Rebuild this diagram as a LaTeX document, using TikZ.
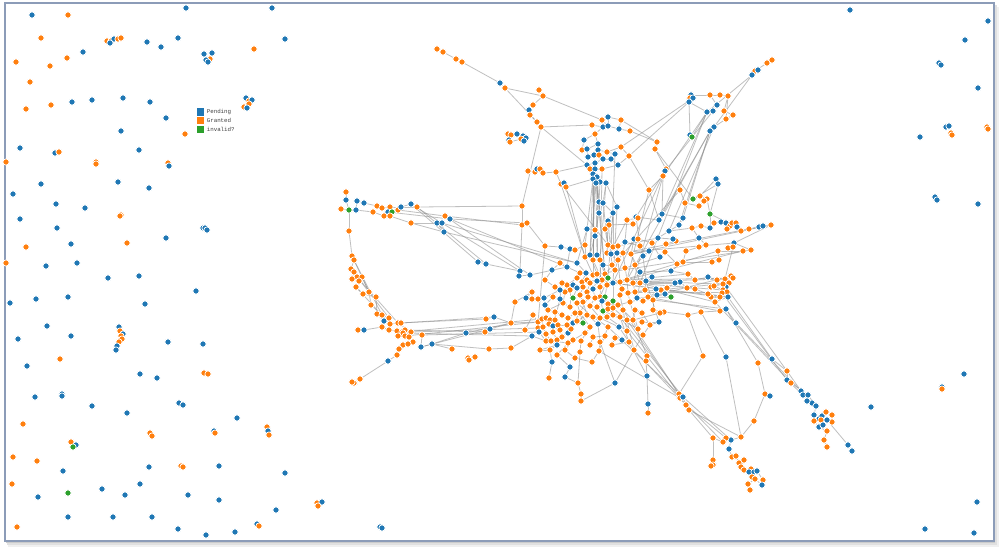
\documentclass[tikz,border=0pt]{standalone}
\usepackage{fontspec}
\setmonofont{Liberation Mono}
\usetikzlibrary{positioning}
\pgfdeclarelayer{bg}
\pgfsetlayers{bg,main}
\definecolor{b}{HTML}{1F77B4}
\definecolor{o}{HTML}{FF7F0E}
\definecolor{g}{HTML}{2CA02C}
\definecolor{frm}{HTML}{8C9CB8}
\begin{document}
\begin{tikzpicture}[x=0.2mm,y=-0.2mm,
  dot/.style={circle,fill=#1,draw=white,line width=0.4pt,inner sep=0pt,minimum size=1.25mm},
  link/.style={draw=black!45,line width=0.45pt,opacity=0.55},
  legsq/.style={fill=#1,inner sep=0pt,minimum size=1.55mm},
  legtxt/.style={inner sep=0pt,text=black!75,font=\ttfamily\fontsize{3.3}{4}\selectfont}]
\useasboundingbox (0,0) rectangle (1000,550);
\begin{pgfonlayer}{bg}
\fill[black!6] (8,7) rectangle (999,547);
\fill[black!12] (7,5) rectangle (997,545);
\fill[black!20] (6,4) rectangle (995,543);
\filldraw[fill=white,draw=frm,line width=0.6pt] (5,3) rectangle (994,541);
\end{pgfonlayer}
% free nodes
\foreach \x/\y/\col [count=\i] in {32/15/b,68/15/o,186/8/b,272/8/b,41/38/o,107/41/o,111/41/o,114/39/b,118/39/o,121/38/o,110/43/b,178/38/b,285/39/b,147/42/b,161/47/b,204/54/b,212/53/b,210/59/o,206/60/b,208/62/b,254/49/o,16/62/o,50/66/o,67/58/o,83/52/b,30/82/o,26/109/o,51/105/o,72/102/b,92/100/b,123/98/b,150/102/b,166/118/b,121/131/b,246/98/b,249/101/o,252/100/b,249/104/o,244/107/o,247/108/b,185/134/o,20/148/b,55/153/b,59/152/o,96/162/o,96/164/o,168/163/o,169/166/b,6/162/o,139/150/b,41/184/b,13/194/b,118/182/b,149/188/b,56/204/b,85/208/b,20/219/b,121/215/o,120/216/o,57/228/b,71/244/b,127/243/o,166/238/b,203/228/b,205/228/b,207/230/b,26/247/o,6/263/o,46/266/b,77/263/b,108/278/b,139/276/b,196/291/b,10/303/b,36/299/b,68/297/b,145/304/b,47/326/b,18/339/b,71/336/b,119/327/b,120/331/o,123/334/b,121/336/o,122/339/o,119/342/o,117/346/b,116/350/b,168/342/b,203/344/b,60/359/o,27/366/b,140/374/b,157/378/b,204/373/o,208/374/o,35/397/b,62/394/b,62/396/b,92/406/b,127/413/b,179/403/b,183/405/b,237/418/b,23/424/o,71/442/o,76/445/b,73/447/g,150/433/o,152/436/o,214/431/b,215/433/o,267/427/o,268/431/b,269/435/o,13/457/o,37/461/o,63/471/b,149/467/b,181/466/o,183/467/o,219/466/b,285/473/b,12/484/o,38/497/b,68/493/g,102/489/b,125/495/b,140/484/b,188/495/b,219/500/b,276/510/b,68/517/b,113/517/b,152/517/b,178/529/b,206/535/b,235/532/b,17/527/o,257/524/b,259/526/o,317/503/o,322/502/b,318/506/o,380/527/b,382/528/b,850/10/b,988/21/b,965/40/b,939/63/b,941/65/b,978/88/b,946/127/b,949/126/b,951/133/o,952/135/o,920/137/b,987/127/o,988/129/o,935/197/b,937/200/b,978/204/b,964/374/b,942/387/b,942/389/o,871/407/b,977/502/b,925/529/b,974/533/b}
  \node[dot=\col] (f\i) at (\x,\y) {};
% graph nodes
\foreach \n/\x/\y/\col in {t1/437/49/o,t2/443/52/o,t3/456/59/o,t4/462/62/o,t5/500/83/b,t6/505/88/o,t7/539/90/o,t8/543/96/o,t9/533/105/o,t10/529/110/b,t11/530/115/o,t12/537/122/o,t13/541/127/o,
  k1/508/134/o,k2/511/135/o,k3/517/134/b,k4/523/136/b,k5/526/138/b,k6/509/140/b,k7/510/142/o,k8/521/139/o,k9/524/141/b,
  u1/592/125/o,u2/602/120/o,u3/603/127/b,u4/608/126/b,u5/608/117/b,u6/595/134/o,u7/584/140/b,u8/582/150/o,u9/587/149/b,u10/598/144/b,u11/598/150/b,u12/607/152/o,u13/615/154/b,u14/611/159/b,u15/588/157/b,u16/594/155/b,u17/599/155/o,u18/603/159/b,u19/595/163/b,u20/587/165/b,u21/590/169/o,u22/595/169/b,u23/602/169/o,u24/618/165/b,u25/593/174/b,u26/597/177/b,u27/593/179/b,u28/600/182/b,u29/606/183/b,u30/596/183/b,u31/621/120/o,u32/619/129/b,u33/630/131/o,u34/621/147/o,u35/629/156/o,u37/599/202/b,u38/603/203/b,u39/599/213/b,u40/613/213/b,u41/617/207/b,u42/608/221/b,u43/609/225/o,u44/605/229/o,u45/595/230/o,u46/587/229/b,u47/595/236/b,
  w1/528/171/o,w2/535/172/o,w3/537/169/b,w4/540/169/o,w5/543/173/o,w6/556/172/o,w7/561/184/o,w8/564/183/b,w9/566/187/o,w10/522/206/o,w11/522/225/o,w12/527/223/o,w14/545/246/o,w15/561/247/b,w16/570/249/b,
  s1/767/63/o,s2/772/60/o,s3/755/71/o,s4/752/75/b,s5/758/70/b,s6/691/95/b,s7/690/98/o,s8/693/98/b,s9/689/102/b,s10/710/95/o,s11/720/95/o,s12/728/96/o,s13/717/105/b,s14/713/111/b,s15/707/112/b,s16/724/111/o,s17/733/115/o,s18/726/119/o,s19/714/127/b,s20/710/131/b,s21/690/135/b,s22/692/137/g,s23/657/142/o,s24/655/149/o,s25/666/169/o,s26/665/171/b,s27/663/176/o,s28/649/190/o,s29/680/190/o,
  m1/716/179/b,m2/718/184/b,m3/693/199/g,m4/700/196/o,m5/707/199/o,m6/704/201/o,m7/699/206/o,m8/685/203/o,m9/710/214/g,m10/662/214/b,m11/683/218/b,m12/679/225/b,m13/659/220/b,m14/636/217/b,m15/638/218/o,m16/627/220/o,m17/633/224/o,m22/669/231/b,m23/692/228/o,m24/701/226/o,m25/710/228/b,m26/714/223/o,m27/721/222/b,m28/726/223/b,m29/730/226/o,m30/727/229/o,m31/732/223/o,m32/736/223/o,m33/737/227/b,m34/741/231/o,m35/749/229/o,m36/759/227/b,m37/763/226/b,m38/771/225/o,m39/658/238/b,m40/676/241/o,m41/666/244/o,m42/673/239/b,m43/699/238/b,m44/706/245/o,m45/699/247/o,m46/686/251/o,m47/718/251/o,m48/743/251/o,m49/751/250/o,m50/719/260/o,m51/712/262/o,m52/683/262/o,m53/649/251/b,m54/643/256/b,m55/671/271/b,m56/688/274/o,m57/695/280/o,m58/708/277/b,m59/717/280/o,m60/725/279/o,m61/731/276/o,m62/733/278/o,m63/729/283/o,m64/726/287/b,m65/723/284/o,m66/711/287/o,m67/714/286/o,m68/723/290/o,m69/727/292/o,m70/722/293/o,m71/720/297/o,m72/711/297/o,m73/715/302/o,m74/728/297/b,m75/708/294/o,m76/695/289/o,m77/687/288/o,m78/680/282/b,m79/675/283/b,m80/667/288/o,m81/661/290/o,m82/656/289/b,m83/671/297/g,m84/652/277/b,m85/646/281/b,m86/665/294/b,m87/657/295/b,m88/653/300/o,m89/653/310/o,m90/664/312/o,m91/688/315/o,m92/701/312/o,m93/720/311/o,m94/726/309/b,m95/736/323/b,m96/659/322/b,m97/642/322/o,m98/634/239/b,m99/638/239/o,m100/652/243/o,m101/660/257/b,m102/665/252/o,m103/677/264/o,m104/734/243/b,m105/728/248/o,m106/733/247/o,
  c1/486/264/b,c2/520/271/b,c3/519/276/b,c4/530/275/b,c5/532/292/o,c6/526/298/b,c7/532/299/o,c8/538/299/o,c9/544/298/b,c10/515/302/o,c11/486/319/o,c12/494/317/b,c13/485/332/o,c14/490/329/b,c15/511/323/o,c16/489/349/o,c17/511/348/o,c18/532/336/b,c19/538/322/o,c20/542/319/o,c21/546/318/o,c22/550/320/o,c23/555/320/o,c24/538/328/o,c25/543/327/o,c26/549/324/o,c27/553/326/b,c28/558/325/o,c29/539/332/b,c30/546/334/o,c31/553/332/o,c32/560/330/o,c33/546/341/o,c34/551/341/o,c35/557/340/o,c36/562/337/o,c37/568/333/b,c38/571/329/o,c39/567/325/o,c40/573/323/b,c41/577/321/o,c42/583/323/g,c43/557/345/b,c44/568/343/o,c45/567/267/b,c46/577/263/b,c47/585/257/o,c48/590/255/b,c49/597/255/b,c50/593/260/o,c51/600/260/o,c52/608/245/o,c53/613/247/o,c54/618/246/o,c55/607/253/o,c56/611/254/b,c57/617/253/b,c58/623/253/o,c59/618/260/o,c60/631/254/o,c61/580/273/o,c62/586/273/b,c63/577/278/o,c64/567/285/o,c65/562/283/o,c66/573/285/b,c67/582/282/o,c68/587/280/o,c69/593/275/o,c70/597/274/o,c71/605/274/o,c72/608/278/g,c73/602/280/o,c74/597/281/b,c75/590/283/o,c76/583/287/o,c77/577/288/b,c78/570/290/o,c79/565/292/o,c80/560/290/b,c81/573/298/g,c82/580/295/o,c83/587/292/o,c84/593/289/b,c85/600/287/o,c86/607/285/o,c87/613/283/b,c88/620/282/o,c89/627/280/o,c90/633/283/o,c91/640/283/o,c93/600/297/o,c94/605/297/g,c95/613/301/g,c96/608/304/o,c97/602/301/b,c98/595/298/o,c99/588/297/o,c100/583/302/o,c101/577/303/o,c102/570/307/o,c103/563/303/o,c104/560/299/b,c105/590/306/o,c106/597/307/o,c107/603/311/g,c108/608/309/o,c109/613/308/o,c110/618/305/o,c111/623/310/o,c112/630/302/o,c113/637/298/b,c114/643/301/o,c115/648/297/o,c116/628/293/o,c117/635/292/o,c118/620/295/o,c119/580/313/o,c120/587/315/o,c121/593/317/o,c122/600/318/o,c123/607/317/o,c124/613/315/o,c125/620/317/o,c126/627/320/o,c127/633/320/o,c129/590/327/o,c130/598/324/b,c131/608/327/o,c132/619/327/b,c133/627/331/o,c134/638/329/o,c135/629/342/o,c136/634/350/o,c137/647/356/o,c138/581/341/o,c139/550/350/o,c140/557/355/o,c141/552/362/b,c142/570/367/b,c143/565/377/b,c144/549/378/o,c145/600/342/o,c146/580/352/o,c147/599/351/o,c148/578/383/o,c149/581/394/o,c150/581/401/o,c151/660/313/o,
  c152/548/310/o,c153/555/312/o,c154/562/315/o,c155/545/305/b,c156/553/297/o,c157/575/313/o,c158/568/318/o,c159/573/340/o,c160/585/333/o,c161/593/337/o,c162/605/336/o,c163/615/338/o,c164/622/340/b,c165/612/345/o,c166/590/345/o,c167/565/350/o,c168/575/358/o,c169/592/362/o,c170/560/263/o,c171/552/270/b,c172/545/280/o,c173/555/287/o,c174/615/270/o,c175/625/268/o,c176/635/265/o,c177/640/272/b,c178/645/290/o,c179/635/310/o,c180/642/313/o,c181/650/325/o,c182/643/335/o,c183/622/289/o,c184/585/245/o,c185/575/250/o,c186/625/242/b,c187/640/246/o,c188/540/350/o,c189/533/315/o,c190/525/330/o,c191/603/265/b,c192/612/265/o,
  b2/703/356/o,b3/726/357/b,b4/758/363/o,b5/772/359/b,b6/787/371/o,b7/787/380/b,b8/791/383/o,b9/801/391/b,b10/803/395/b,b11/808/395/b,b12/812/403/b,b13/816/406/b,b14/807/401/b,b15/814/415/b,b16/819/419/b,b17/822/416/b,b18/826/412/o,b19/832/415/o,b20/821/420/o,b21/832/422/o,b22/814/421/o,b23/827/420/b,b24/819/427/b,b25/823/425/b,b26/827/431/o,b27/824/440/o,b28/827/447/o,b29/848/445/b,b30/852/451/b,b31/765/394/o,b32/770/396/b,b33/754/421/o,b34/741/437/o,b35/731/440/b,b36/726/438/o,b37/723/442/o,b38/713/438/o,b39/729/449/b,b40/713/460/o,b41/713/465/o,b42/711/466/o,b43/732/457/o,b44/736/456/o,b45/739/463/o,b46/744/460/o,b47/741/467/o,b48/744/470/o,b49/751/469/o,b50/749/472/b,b51/754/472/b,b52/757/471/b,b53/752/477/o,b54/755/479/o,b55/748/484/o,b56/763/480/o,b57/762/485/b,b58/750/490/o,b59/679/394/o,b60/680/398/o,b61/683/397/b,b62/686/405/o,b63/689/410/o,b64/615/383/b,b65/647/376/b,b66/648/404/b,b67/648/413/o,b69/646/361/o,
  a1/346/192/o,a2/346/200/b,a3/341/209/o,a4/349/210/g,a5/357/201/b,a6/364/203/b,a7/356/210/b,a8/377/206/o,a9/373/212/o,a10/382/208/o,a11/390/207/o,a12/388/212/b,a13/392/212/g,a14/398/210/o,a15/401/207/b,a16/411/204/b,a17/417/207/o,a18/384/216/o,a19/390/216/o,a20/411/223/o,a21/445/216/o,a22/450/219/b,a23/437/223/b,a24/442/223/b,a25/444/232/b,a26/478/262/b,a27/349/231/o,a28/352/256/o,a29/354/260/o,a30/351/269/o,a31/354/272/o,a32/357/277/o,a33/362/277/o,a34/352/279/o,a35/359/281/o,a36/356/287/o,a37/363/294/o,a38/369/292/o,a39/376/297/o,a40/371/305/o,a41/377/314/o,a42/382/315/o,a43/384/321/b,a44/389/318/o,a45/382/327/o,a46/390/324/o,a47/398/323/o,a48/401/323/o,a49/389/330/o,a50/397/331/o,a51/402/332/o,a52/405/330/o,a53/403/333/o,a54/398/336/o,a55/405/336/o,a56/411/332/o,a57/409/337/o,a58/422/335/o,a59/413/342/o,a60/403/345/o,a61/408/344/o,a62/399/349/o,a63/421/347/b,a64/432/344/b,a65/452/349/o,a66/466/333/b,a67/358/330/o,a68/364/330/b,a69/397/355/o,a70/388/361/b,a71/360/379/o,a72/354/383/o,a73/352/382/o,a74/468/358/o,a75/475/357/o,a76/469/360/o}
  \node[dot=\col] (\n) at (\x,\y) {};
\begin{pgfonlayer}{bg}
\foreach \p/\q in {t1/t2,t2/t3,t3/t4,t4/t5,t5/t6,t6/t8,t7/t8,t6/t12,t9/t10,t9/t8,t10/t11,t11/t12,t12/t13,t8/u2,t13/u1,t13/u20,t13/w10,w10/w11,w11/w12,
  k1/k2,k2/k3,k3/k4,k4/k5,k6/k7,k7/k8,k8/k9,k1/k6,k4/k9,
  u1/u3,u2/u4,u3/u6,u4/u5,u5/u31,u6/u7,u7/u8,u8/u9,u9/u10,u10/u11,u11/u12,u12/u13,u13/u14,u14/u18,u15/u16,u16/u17,u17/u18,u18/u19,u19/u20,u20/u21,u21/u22,u22/u23,u23/u24,u24/u14,u25/u26,u26/u28,u27/u30,u28/u29,u15/u9,u6/u10,u31/u32,u32/u33,u33/s23,u34/u35,u35/u24,u34/u12,u32/u4,u28/u37,u29/u38,u37/u39,u38/u40,u40/u42,u42/u43,u43/u44,u44/c52,u30/c48,u26/c49,u39/u47,u47/c48,u45/u46,u46/c46,u45/u47,u22/c71,u23/c85,u25/c69,u19/c50,u13/c56,u41/c87,u40/c72,u42/c56,u41/u29,u27/u46,u30/u37,
  w1/w2,w2/w3,w3/w4,w4/w5,w5/w6,w6/w7,w7/w8,w8/w9,w9/u27,w6/u20,w7/c52,w9/c47,w12/w14,w14/w15,w15/w16,w16/c45,w14/c19,
  s1/s2,s1/s3,s3/s5,s4/s5,s4/s15,s6/s7,s7/s8,s8/s9,s6/s10,s10/s11,s11/s12,s12/s16,s12/s18,s10/s13,s13/s14,s14/s15,s15/s9,s16/s17,s17/s18,s18/s19,s19/s20,s15/s22,s22/s21,s21/s9,s15/s27,s14/s26,s27/s28,s26/m14,s20/m11,s9/u35,s8/u34,s23/s24,s23/u31,s24/m3,s24/s25,s25/s27,s28/c89,s28/u35,s29/m8,s29/c71,s4/s19,s20/m12,
  m1/m2,m2/m3,m2/m9,m1/m4,m3/m4,m4/m5,m5/m6,m6/m7,m7/m8,m5/m9,m9/m33,m9/m25,m10/m11,m11/m12,m12/m22,m13/m14,m14/m15,m15/m16,m16/m17,m17/u43,m13/m10,m22/m23,m23/m24,m24/m25,m25/m26,m26/m27,m27/m28,m28/m29,m29/m30,m29/m31,m31/m32,m32/m33,m33/m34,m34/m35,m35/m36,m36/m37,m37/m38,m22/m39,m39/m42,m42/m40,m40/m41,m43/m44,m44/m45,m45/m46,m46/m52,m47/m48,m48/m49,m47/m50,m50/m51,m51/m52,m52/m55,m53/m54,m54/m85,m55/m56,m56/m57,m57/m58,m58/m59,m59/m60,m60/m61,m61/m62,m62/m63,m63/m64,m64/m65,m65/m66,m66/m67,m67/m68,m68/m69,m69/m70,m70/m71,m71/m72,m72/m73,m73/m74,m74/m75,m75/m76,m76/m77,m77/m78,m78/m79,m79/m80,m80/m81,m81/m82,m82/m83,m83/m86,m86/m87,m87/m88,m88/m89,m89/m90,m90/m91,m91/m92,m92/m93,m93/m94,m94/m95,m84/m85,m85/m96,m96/m97,m98/m99,m99/m100,m100/m101,m101/m102,m102/m103,m104/m105,m105/m106,m106/m60,m43/m23,m10/s27,m13/s28,m38/m104,m49/m104,
  c88/m60,c89/m62,c90/m68,c91/m73,c113/m94,c115/m93,c86/m47,c87/m48,c70/m49,c58/m36,c60/m38,c57/m104,c73/m65,c74/m71,c68/m74,c110/m61,c116/m63,c117/m69,c60/m98,c54/m39,c53/m16,c71/u26,c87/s26,c90/s27,c89/s20,c91/s15,
  c52/u38,c53/u40,c49/u30,c51/u29,c55/u42,c50/u25,c48/u27,c47/w7,c184/u46,c187/m14,c186/m16,c60/m53,c176/m101,c177/m55,c91/m79,c90/m78,c89/m56,c113/m83,c114/m86,c115/m81,s20/m13,s15/m10,s19/m22,
  c19/c24,c20/c25,c21/c26,c22/c27,c23/c28,c24/c29,c25/c30,c26/c31,c27/c32,c28/c39,c29/c33,c30/c34,c31/c35,c32/c36,c33/c43,c34/c44,c35/c37,c36/c38,c37/c40,c38/c41,c39/c42,c40/c119,c41/c120,c42/c101,c43/c139,c44/c140,c45/c61,c46/c62,c47/c69,c48/c70,c49/c71,c50/c73,c51/c85,c52/c55,c53/c56,c54/c57,c55/c59,c56/c58,c57/c60,c58/c89,c59/c88,c60/c91,c61/c63,c62/c67,c63/c64,c64/c65,c65/c80,c66/c78,c67/c76,c68/c75,c69/c74,c70/c73,c71/c86,c72/c87,c73/c85,c74/c84,c75/c83,c76/c82,c77/c81,c78/c102,c79/c103,c80/c104,c81/c101,c82/c100,c83/c99,c84/c98,c85/c97,c86/c94,c87/c95,c88/c118,c89/c116,c90/c117,c91/c113,c93/c107,c94/c108,c95/c109,c96/c110,c97/c106,c98/c105,c99/c119,c100/c120,c101/c121,c102/c103,c104/c27,c105/c122,c106/c123,c107/c124,c108/c125,c109/c126,c110/c127,c111/c133,c112/c134,c113/c114,c114/c115,c115/m88,c116/c112,c117/c113,c118/c111,c119/c129,c120/c130,c121/c131,c122/c132,c123/c133,c124/c134,c125/c135,c126/c136,c127/c137,c129/c138,c130/c145,c131/c147,c132/c135,c138/c146,c145/c147,c139/c141,c140/c142,c141/c144,c142/c143,c143/c148,c148/c149,c149/c150,c146/c148,c151/m90,c151/c127,c66/c77,c79/c64,c93/c72,c96/c95,
  c152/c155,c153/c152,c154/c153,c156/c155,c157/c158,c159/c160,c161/c162,c163/c164,c165/c163,c166/c161,c167/c159,c168/c167,c169/c168,c170/c171,c171/c172,c172/c173,c174/c175,c175/c176,c176/c177,c178/c117,c179/c180,c180/c181,c181/c182,c183/c88,c184/c185,c186/c187,c188/c139,c189/c190,c191/c192,c152/c103,c157/c119,c162/c145,c165/c135,c170/c45,c174/c59,c177/c60,c178/m85,c179/c127,c181/m96,c184/c47,c186/c58,c188/c43,c189/c19,c191/c71,c192/c56,c169/c147,c182/c136,c173/c80,c176/m53,
  c1/c2,c2/c3,c3/c4,c4/c45,c5/c6,c6/c7,c7/c8,c8/c9,c9/c80,c10/c5,c10/c15,c11/c12,c12/c15,c13/c14,c14/c15,c15/c19,c16/c17,c17/c18,c18/c33,c2/w11,c1/a26,
  a47/c11,a48/c12,a52/c13,a55/c19,a56/c24,a58/c29,a63/c14,a64/c16,a66/c15,a53/c18,a51/c20,a17/c1,a21/c4,a22/c45,a24/c46,a25/c46,a20/a25,a12/a22,a14/a21,a16/a26,a23/a25,a21/w11,a22/w12,a17/w10,a16/c2,
  a1/a2,a2/a4,a3/a4,a4/a7,a4/a27,a5/a6,a6/a8,a7/a9,a8/a10,a9/a18,a10/a11,a11/a12,a12/a13,a13/a14,a14/a15,a15/a16,a16/a17,a18/a19,a19/a20,a20/a23,a21/a22,a23/a24,a24/a25,a5/a7,a27/a28,a28/a29,a29/a30,a30/a31,a31/a32,a32/a33,a31/a34,a34/a35,a35/a36,a36/a37,a33/a38,a37/a39,a38/a40,a39/a41,a40/a42,a41/a43,a42/a44,a43/a45,a44/a46,a45/a49,a46/a47,a47/a48,a48/a52,a49/a50,a50/a51,a51/a53,a52/a56,a53/a54,a54/a55,a55/a57,a57/a59,a59/a61,a61/a60,a60/a62,a62/a69,a69/a70,a70/a71,a71/a72,a72/a73,a58/a63,a63/a64,a64/a65,a67/a68,a68/a45,a28/a38,a29/a42,a30/a44,a32/a47,a36/a46,a66/a64,a74/a75,a75/a76,a13/a19,a11/a17,
  c111/b59,c126/b59,c133/b60,c136/b62,c125/b61,b59/b60,b60/b61,b61/b62,b62/b63,b63/b38,b62/b36,b61/b35,b60/b37,b63/b34,b2/b59,b2/m91,b3/b34,b3/m92,b4/b31,b31/b32,b31/b33,b33/b34,b4/m94,m74/b5,m64/b6,m70/b7,m73/b8,m95/b9,b9/b14,b14/b12,b12/b13,b13/b15,b15/b16,b16/b17,b17/b18,b18/b19,b10/b11,b11/b13,b16/b20,b20/b21,b20/b22,b22/b24,b24/b25,b25/b23,b24/b26,b26/b27,b27/b28,b23/b29,b29/b30,b6/b9,b7/b10,b8/b11,b5/b6,b6/b7,b7/b8,b34/b35,b35/b36,b36/b37,b37/b38,b38/b40,b40/b41,b41/b42,b35/b39,b39/b43,b43/b44,b44/b45,b45/b46,b46/b47,b47/b48,b48/b49,b49/b50,b50/b51,b51/b52,b52/b56,b53/b54,b50/b53,b54/b55,b55/b58,b56/b57,b57/b54,b64/c136,b65/c135,b65/b66,b66/b67,b69/c137,b69/b65,c131/b59,c147/b60,c145/b64,c150/b64}
  \draw[link] (\p) -- (\q);
\end{pgfonlayer}
% legend
\node[legsq=b] (lgp) at (200.5,112.2) {};
\node[legsq=o] (lgg) at (200.5,120.6) {};
\node[legsq=g] (lgi) at (200.5,129.5) {};
\node[legtxt,right=0.35mm of lgp] (ltp) {Pending};
\node[legtxt,right=0.35mm of lgg] (ltg) {Granted};
\node[legtxt,right=0.35mm of lgi] (lti) {invalid?};
\end{tikzpicture}
\end{document}
